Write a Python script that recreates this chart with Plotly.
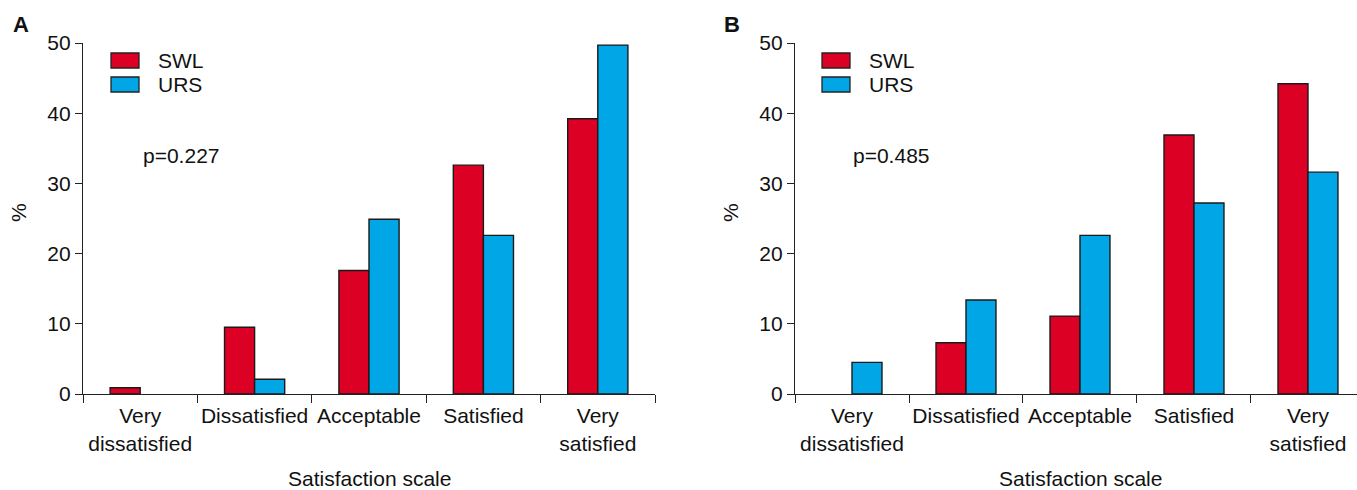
import plotly.graph_objects as go

categories = ["Very<br>dissatisfied", "Dissatisfied", "Acceptable", "Satisfied", "Very<br>satisfied"]
swl_a = [0.9, 9.5, 17.6, 32.6, 39.2]
urs_a = [0, 2.1, 24.9, 22.6, 49.7]
swl_b = [0, 7.3, 11.1, 36.9, 44.2]
urs_b = [4.5, 13.4, 22.6, 27.2, 31.6]
p_values = ["p=0.227", "p=0.485"]
panel_labels = ["A", "B"]
series_names = ["SWL", "URS"]
y_ticks = [0, 10, 20, 30, 40, 50]

RED = "#DC0025"
BLUE = "#00A6E6"
W, H = 1357, 490
FONT = "Liberation Sans, Arial, sans-serif"

def px(x):
    return x / W

def py(y):
    return 1 - y / H

def nz(vals):
    # zero-height bars are left empty, as in the reference
    return [v if v else None for v in vals]

fig = go.Figure()
for i, (swl, urs) in enumerate([(swl_a, urs_a), (swl_b, urs_b)]):
    xa = "x" if i == 0 else "x2"
    ya = "y" if i == 0 else "y2"
    fig.add_trace(go.Bar(x=categories, y=nz(swl), name=series_names[0], marker=dict(color=RED, line=dict(color="#1a1a1a", width=1.4)),
                         xaxis=xa, yaxis=ya, showlegend=False))
    fig.add_trace(go.Bar(x=categories, y=nz(urs), name=series_names[1], marker=dict(color=BLUE, line=dict(color="#1a1a1a", width=1.4)),
                         xaxis=xa, yaxis=ya, showlegend=False))

ydom = [(H - 394) / H, (H - 43) / H]
xcommon = dict(type="category", showline=True, linecolor="#222", linewidth=1.3, ticks="outside", tickson="boundaries",
               ticklen=8, tickcolor="#222", tickwidth=1.3, tickangle=0, ticklabelstandoff=3,
               tickfont=dict(family=FONT, size=21, color="#111"),
               showgrid=False, zeroline=False, automargin=False, fixedrange=True)
ycommon = dict(range=[0, 50], tickvals=y_ticks, showline=True, linecolor="#222", linewidth=1.3, ticks="outside",
               ticklen=7, tickcolor="#222", tickwidth=1.3, tickfont=dict(family=FONT, size=21, color="#111"),
               showgrid=False, zeroline=False, automargin=False, domain=ydom)

fig.update_layout(
    width=W, height=H, margin=dict(l=0, r=0, t=0, b=0),
    paper_bgcolor="white", plot_bgcolor="white",
    barmode="group", bargap=0.474, bargroupgap=0,
    xaxis=dict(xcommon, domain=[px(83), px(655)], range=[-0.5, 4.5], anchor="y"),
    yaxis=dict(ycommon, anchor="x"),
    xaxis2=dict(xcommon, domain=[px(795), 1.0], range=[-0.5, 4.43], anchor="y2"),
    yaxis2=dict(ycommon, anchor="x2"),
    font=dict(family=FONT, color="#111"),
)

annotations = []
shapes = []
offsets = [0, 712]
for i, off in enumerate(offsets):
    annotations.append(dict(text=panel_labels[i], x=px(11 + off - (1 if i else 0)), y=py(24), xref="paper", yref="paper",
                            xanchor="left", yanchor="middle", showarrow=False,
                            font=dict(family=FONT, size=22, color="#111", weight="bold")))
    annotations.append(dict(text="%", x=px(18 + off), y=py(213), xref="paper", yref="paper", textangle=-90,
                            xanchor="center", yanchor="middle", showarrow=False, font=dict(family=FONT, size=21)))
    annotations.append(dict(text="Satisfaction scale", x=px(369 + off + (0 if i == 0 else -1)), y=py(478), xref="paper", yref="paper",
                            xanchor="center", yanchor="middle", showarrow=False, font=dict(family=FONT, size=21)))
    annotations.append(dict(text=p_values[i], x=px(141 + off - 2 * i), y=py(155), xref="paper", yref="paper",
                            xanchor="left", yanchor="middle", showarrow=False, font=dict(family=FONT, size=21)))
    for j, (name, col) in enumerate(zip(series_names, [RED, BLUE])):
        y0 = 53 + 24 * j
        shapes.append(dict(type="rect", xref="paper", yref="paper", x0=px(111 + off - 1 * i), x1=px(139 + off - 1 * i),
                           y0=py(y0), y1=py(y0 + 15), fillcolor=col, line=dict(color="#222", width=1.3)))
        annotations.append(dict(text=name, x=px(156 + off - 1 * i), y=py(y0 + 8), xref="paper", yref="paper",
                                xanchor="left", yanchor="middle", showarrow=False, font=dict(family=FONT, size=21)))

fig.update_layout(annotations=annotations, shapes=shapes)
fig.write_html("out.html", config={"displayModeBar": False},
               post_script="document.body.style.margin='0';document.body.style.overflow='hidden';")
